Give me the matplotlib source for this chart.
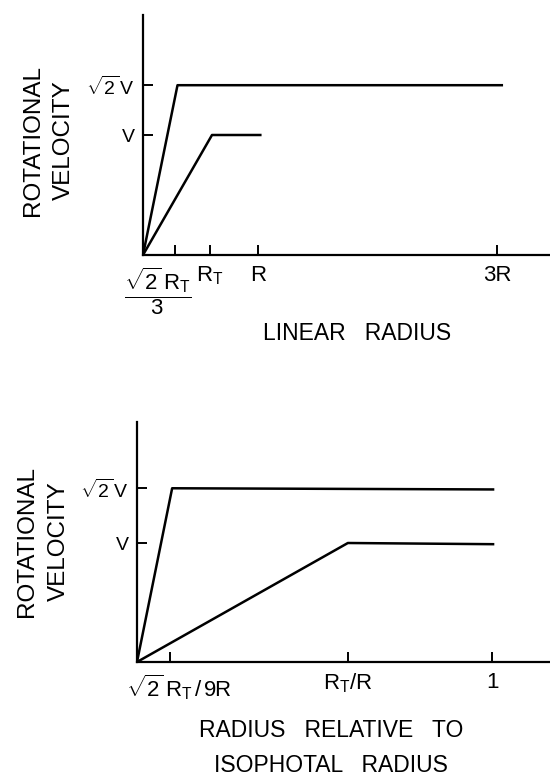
import matplotlib
matplotlib.use('Agg')
import matplotlib.pyplot as plt
from matplotlib.transforms import ScaledTranslation

plt.rcParams['font.family'] = ['Liberation Sans', 'DejaVu Sans']
plt.rcParams['mathtext.fontset'] = 'custom'
plt.rcParams['mathtext.rm'] = 'Liberation Sans'
plt.rcParams['mathtext.it'] = 'Liberation Sans'
plt.rcParams['mathtext.bf'] = 'Liberation Sans:bold'

# top panel: linear radius (x in units of R, y in units of V)
lin_x_fast = [0, 0.30, 3.12]
lin_y_fast = [0, 1.415, 1.415]
lin_x_slow = [0, 0.60, 1.02]
lin_y_slow = [0, 1.0, 1.0]
lin_xticks = [0.28, 0.58, 1.0, 3.08]
lin_xticklabels = [r'$\dfrac{\sqrt{2}\,R_T}{3}$', r'$R_T$', 'R', '3R']
lin_yticks = [1.0, 1.415]

# bottom panel: radius relative to isophotal radius
rel_x_fast = [0, 0.099, 1.003]
rel_y_fast = [0, 1.46, 1.45]
rel_x_slow = [0, 0.594, 1.003]
rel_y_slow = [0, 1.0, 0.99]
rel_xticks = [0.093, 0.594, 1.0]
rel_xticklabels = [r'$\sqrt{2}\,R_T\,/\,9R$', r'$R_T/R$', '1']
rel_yticks = [1.0, 1.46]

yticklabels = ['V', r'$\sqrt{2}\,\mathrm{V}$']

fig = plt.figure(figsize=(5.5, 7.76), dpi=100)
ax1 = fig.add_axes([143/550, 1-255/776, 407/550, 240/776])
ax2 = fig.add_axes([137/550, 1-662/776, 413/550, 240/776])


def style(ax):
    for s in ['top', 'right']:
        ax.spines[s].set_visible(False)
    for s in ['left', 'bottom']:
        ax.spines[s].set_linewidth(1.6)
    ax.tick_params(axis='both', direction='in', length=7, width=1.4)
    ax.tick_params(axis='x', pad=7, labelsize=16)
    ax.tick_params(axis='y', pad=6, labelsize=14)


# top
ax1.plot(lin_x_fast, lin_y_fast, color='black', lw=1.8)
ax1.plot(lin_x_slow, lin_y_slow, color='black', lw=1.8)
ax1.set_xlim(0, 407/115)
ax1.set_ylim(0, 2.0)
ax1.set_xticks(lin_xticks)
ax1.set_xticklabels(lin_xticklabels)
ax1.set_yticks(lin_yticks)
ax1.set_yticklabels(yticklabels)
style(ax1)
lab = ax1.get_xticklabels()[0]
lab.set_transform(lab.get_transform() + ScaledTranslation(-0.18, 0, fig.dpi_scale_trans))
ax1.set_xlabel('LINEAR   RADIUS', fontsize=16.5)
ax1.xaxis.set_label_coords(0.526, -0.325)
ax1.xaxis.label.set_va('center')
ax1.set_ylabel('ROTATIONAL\nVELOCITY', fontsize=17.5, linespacing=1.5)
ax1.yaxis.set_label_coords(-0.233, 0.479)
ax1.yaxis.label.set_va('center')

# bottom
ax2.plot(rel_x_fast, rel_y_fast, color='black', lw=1.8)
ax2.plot(rel_x_slow, rel_y_slow, color='black', lw=1.8)
ax2.set_xlim(0, 413/355)
ax2.set_ylim(0, 240/119)
ax2.set_xticks(rel_xticks)
ax2.set_xticklabels(rel_xticklabels)
ax2.set_yticks(rel_yticks)
ax2.set_yticklabels(yticklabels)
style(ax2)
lab = ax2.get_xticklabels()[0]
lab.set_transform(lab.get_transform() + ScaledTranslation(0.09, 0, fig.dpi_scale_trans))
ax2.set_xlabel('RADIUS   RELATIVE   TO\nISOPHOTAL   RADIUS', fontsize=16.5, linespacing=1.65)
ax2.xaxis.set_label_coords(0.47, -0.358)
ax2.xaxis.label.set_va('center')
ax2.set_ylabel('ROTATIONAL\nVELOCITY', fontsize=17.5, linespacing=1.6)
ax2.yaxis.set_label_coords(-0.228, 0.504)
ax2.yaxis.label.set_va('center')

fig.savefig('out.png', dpi=100)
